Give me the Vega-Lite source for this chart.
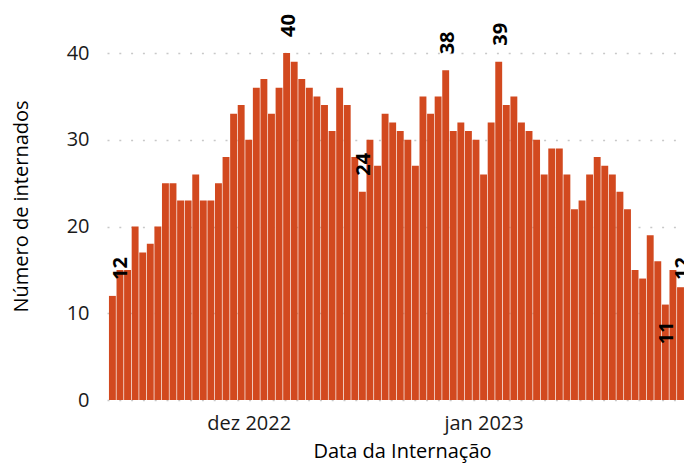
{
  "$schema": "https://vega.github.io/schema/vega-lite/v6.json",
  "width": 577,
  "height": 400,
  "autosize": {"type": "none"},
  "padding": {"left": 107, "top": 0, "right": 0, "bottom": 63},
  "background": "white",
  "config": {"view": {"stroke": null}},
  "data": {
    "format": {"parse": {"data": "utc:'%Y-%m-%d'"}},
    "values": [
      {"data": "2022-11-13", "n": 12, "rotulo": "12"},
      {"data": "2022-11-14", "n": 15},
      {"data": "2022-11-15", "n": 15},
      {"data": "2022-11-16", "n": 20},
      {"data": "2022-11-17", "n": 17},
      {"data": "2022-11-18", "n": 18},
      {"data": "2022-11-19", "n": 20},
      {"data": "2022-11-20", "n": 25},
      {"data": "2022-11-21", "n": 25},
      {"data": "2022-11-22", "n": 23},
      {"data": "2022-11-23", "n": 23},
      {"data": "2022-11-24", "n": 26},
      {"data": "2022-11-25", "n": 23},
      {"data": "2022-11-26", "n": 23},
      {"data": "2022-11-27", "n": 25},
      {"data": "2022-11-28", "n": 28},
      {"data": "2022-11-29", "n": 33},
      {"data": "2022-11-30", "n": 34},
      {"data": "2022-12-01", "n": 30},
      {"data": "2022-12-02", "n": 36},
      {"data": "2022-12-03", "n": 37},
      {"data": "2022-12-04", "n": 33},
      {"data": "2022-12-05", "n": 36},
      {"data": "2022-12-06", "n": 40, "rotulo": "40"},
      {"data": "2022-12-07", "n": 39},
      {"data": "2022-12-08", "n": 37},
      {"data": "2022-12-09", "n": 36},
      {"data": "2022-12-10", "n": 35},
      {"data": "2022-12-11", "n": 34},
      {"data": "2022-12-12", "n": 31},
      {"data": "2022-12-13", "n": 36},
      {"data": "2022-12-14", "n": 34},
      {"data": "2022-12-15", "n": 28},
      {"data": "2022-12-16", "n": 24, "rotulo": "24"},
      {"data": "2022-12-17", "n": 30},
      {"data": "2022-12-18", "n": 27},
      {"data": "2022-12-19", "n": 33},
      {"data": "2022-12-20", "n": 32},
      {"data": "2022-12-21", "n": 31},
      {"data": "2022-12-22", "n": 30},
      {"data": "2022-12-23", "n": 27},
      {"data": "2022-12-24", "n": 35},
      {"data": "2022-12-25", "n": 33},
      {"data": "2022-12-26", "n": 35},
      {"data": "2022-12-27", "n": 38, "rotulo": "38"},
      {"data": "2022-12-28", "n": 31},
      {"data": "2022-12-29", "n": 32},
      {"data": "2022-12-30", "n": 31},
      {"data": "2022-12-31", "n": 30},
      {"data": "2023-01-01", "n": 26},
      {"data": "2023-01-02", "n": 32},
      {"data": "2023-01-03", "n": 39, "rotulo": "39"},
      {"data": "2023-01-04", "n": 34},
      {"data": "2023-01-05", "n": 35},
      {"data": "2023-01-06", "n": 32},
      {"data": "2023-01-07", "n": 31},
      {"data": "2023-01-08", "n": 30},
      {"data": "2023-01-09", "n": 26},
      {"data": "2023-01-10", "n": 29},
      {"data": "2023-01-11", "n": 29},
      {"data": "2023-01-12", "n": 26},
      {"data": "2023-01-13", "n": 22},
      {"data": "2023-01-14", "n": 23},
      {"data": "2023-01-15", "n": 26},
      {"data": "2023-01-16", "n": 28},
      {"data": "2023-01-17", "n": 27},
      {"data": "2023-01-18", "n": 26},
      {"data": "2023-01-19", "n": 24},
      {"data": "2023-01-20", "n": 22},
      {"data": "2023-01-21", "n": 15},
      {"data": "2023-01-22", "n": 14},
      {"data": "2023-01-23", "n": 19},
      {"data": "2023-01-24", "n": 16},
      {"data": "2023-01-25", "n": 11, "rotulo": "11"},
      {"data": "2023-01-26", "n": 15},
      {"data": "2023-01-27", "n": 13},
      {"data": "2023-01-28", "n": 12, "rotulo": "12"}
    ]
  },
  "encoding": {
    "x": {
      "field": "data",
      "type": "temporal",
      "scale": {
        "type": "utc",
        "padding": 0,
        "domain": [
          {"year": 2022, "month": 11, "date": 12, "hours": 6, "minutes": 53, "utc": true},
          {"year": 2023, "month": 1, "date": 27, "hours": 11, "minutes": 3, "utc": true}
        ]
      },
      "axis": {
        "values": [
          {"year": 2022, "month": 12, "date": 1, "utc": true},
          {"year": 2023, "month": 1, "date": 1, "utc": true}
        ],
        "labelExpr": "['jan','fev','mar','abr','mai','jun','jul','ago','set','out','nov','dez'][utcmonth(datum.value)] + ' ' + utcyear(datum.value)",
        "grid": false,
        "ticks": false,
        "domain": false,
        "labelPadding": 13,
        "labelFont": "Open Sans",
        "labelFontSize": 20,
        "labelColor": "#1a1a1a",
        "title": "Data da Internação",
        "titleFont": "Open Sans",
        "titleFontSize": 20,
        "titleFontWeight": "normal",
        "titleColor": "#000000",
        "titleX": 295,
        "titleY": 57,
        "titleAlign": "center",
        "titleBaseline": "alphabetic"
      }
    },
    "y": {
      "field": "n",
      "type": "quantitative",
      "scale": {"domain": [0, 46.11], "nice": false},
      "axis": {
        "values": [0, 10, 20, 30, 40],
        "grid": true,
        "gridColor": "#c8c8c8",
        "gridDash": [2, 9.8],
        "gridWidth": 1.5,
        "ticks": false,
        "domain": false,
        "labelPadding": 18,
        "labelFont": "Open Sans",
        "labelFontSize": 20,
        "labelColor": "#1a1a1a",
        "labelBaseline": "middle",
        "title": "Número de internados",
        "titleFont": "Open Sans",
        "titleFontSize": 20,
        "titleFontWeight": "normal",
        "titleColor": "#000000",
        "titleX": -86,
        "titleY": 206,
        "titleAngle": 270,
        "titleAlign": "center",
        "titleBaseline": "middle"
      }
    }
  },
  "layer": [
    {"mark": {"type": "bar", "color": "#D2491F", "width": 6.9, "clip": true}},
    {
      "transform": [{"filter": "isValid(datum.rotulo) && datum.n > 11 && !(utcmonth(datum.data) == 10 && utcdate(datum.data) == 13) && !(utcmonth(datum.data) == 0 && utcdate(datum.data) == 28)"}],
      "mark": {"type": "text", "angle": 270, "align": "left", "baseline": "middle", "font": "Open Sans", "fontWeight": "bold", "fontSize": 20, "color": "#000000", "yOffset": -16, "xOffset": 2, "clip": true},
      "encoding": {"text": {"field": "rotulo"}}
    },
    {
      "transform": [{"filter": "isValid(datum.rotulo) && utcmonth(datum.data) == 10 && utcdate(datum.data) == 13"}],
      "mark": {"type": "text", "angle": 270, "align": "left", "baseline": "middle", "font": "Open Sans", "fontWeight": "bold", "fontSize": 20, "color": "#000000", "yOffset": -16, "xOffset": 9, "clip": true},
      "encoding": {"text": {"field": "rotulo"}}
    },
    {
      "transform": [{"filter": "isValid(datum.rotulo) && utcmonth(datum.data) == 0 && utcdate(datum.data) == 28"}],
      "mark": {"type": "text", "angle": 270, "align": "left", "baseline": "middle", "font": "Open Sans", "fontWeight": "bold", "fontSize": 20, "color": "#000000", "yOffset": -16, "xOffset": -5, "clip": true},
      "encoding": {"text": {"field": "rotulo"}}
    },
    {
      "transform": [{"filter": "isValid(datum.rotulo) && datum.n <= 11"}],
      "mark": {"type": "text", "angle": 270, "align": "right", "baseline": "middle", "font": "Open Sans", "fontWeight": "bold", "fontSize": 20, "color": "#000000", "yOffset": 17, "xOffset": 2, "clip": true},
      "encoding": {"text": {"field": "rotulo"}}
    }
  ]
}
